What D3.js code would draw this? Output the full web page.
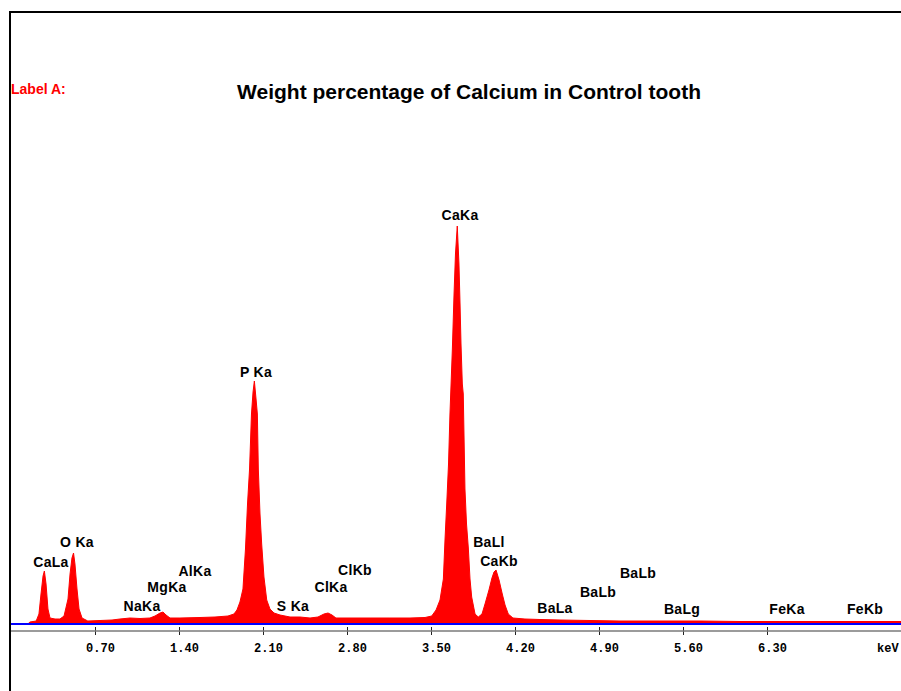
<!DOCTYPE html>
<html>
<head>
<meta charset="utf-8">
<script src="https://cdn.jsdelivr.net/npm/d3@7"></script>
<style>
  html, body { margin: 0; padding: 0; background: #fff; }
  svg { display: block; }
</style>
</head>
<body>
<svg id="chart" width="901" height="691"></svg>
<script>
// ---- Data ----
const energyKeV = [
  0.14, 0.158, 0.21, 0.233, 0.25, 0.267, 0.278, 0.292, 0.308, 0.325,
  0.367, 0.408, 0.442, 0.475, 0.492, 0.508, 0.521, 0.533, 0.55, 0.567,
  0.592, 0.64, 0.742, 0.842, 0.908, 0.992, 1.075, 1.158, 1.2, 1.242,
  1.267, 1.292, 1.325, 1.408, 1.575, 1.7, 1.808, 1.858, 1.883, 1.908,
  1.933, 1.954, 1.971, 1.988, 2.004, 2.017, 2.028, 2.042, 2.053, 2.061,
  2.075, 2.089, 2.108, 2.131, 2.158, 2.192, 2.242, 2.325, 2.408, 2.492,
  2.558, 2.608, 2.642, 2.675, 2.708, 2.825, 2.992, 3.158, 3.325, 3.45,
  3.506, 3.542, 3.575, 3.603, 3.617, 3.631, 3.646, 3.658, 3.678, 3.692,
  3.704, 3.719, 3.733, 3.742, 3.75, 3.761, 3.769, 3.783, 3.796, 3.811,
  3.825, 3.839, 3.867, 3.894, 3.925, 3.95, 3.983, 4.008, 4.025, 4.042,
  4.067, 4.094, 4.117, 4.144, 4.183, 4.283, 4.408, 4.575, 4.825, 5.075,
  5.408, 5.742, 6.075, 6.408, 6.742, 7.075, 7.417
];
const counts = [
  0, 2, 3, 10, 30, 48, 53, 40, 15, 6,
  5, 5, 8, 25, 50, 66, 71, 60, 35, 15,
  6, 3, 3.5, 4, 5, 6, 5.5, 6, 8, 11,
  12, 9, 6, 6, 6.5, 7, 8, 10, 14, 22,
  35, 75, 120, 155, 210, 232, 243, 225, 210, 155,
  110, 80, 47, 24, 15, 11, 9, 7, 7, 6,
  7, 10, 11, 9, 6, 6, 6, 6, 6, 6.5,
  8, 14, 24, 45, 85, 120, 160, 210, 275, 330,
  370, 398, 360, 320, 280, 240, 230, 135, 100, 76,
  45, 27, 10, 7, 10, 20, 34, 46, 52, 54,
  44, 30, 19, 10, 6, 5, 4.5, 4, 3.5, 3,
  3, 3, 2.5, 2.5, 2.5, 2.5, 2.5
];
const tickValues = [0.70, 1.40, 2.10, 2.80, 3.50, 4.20, 4.90, 5.60, 6.30];
const peakNames  = ["CaLa", "O Ka", "NaKa", "MgKa", "AlKa", "P Ka", "S Ka", "ClKa", "ClKb",
                    "CaKa", "BaLl", "CaKb", "BaLa", "BaLb", "BaLb", "BaLg", "FeKa", "FeKb"];
const peakLabelKeV = [0.333, 0.55, 1.092, 1.3, 1.533, 2.042, 2.35, 2.667, 2.867,
                      3.742, 3.983, 4.067, 4.533, 4.892, 5.225, 5.592, 6.467, 7.117];
const peakLabelLevel = [57, 77, 13, 32, 48, 247, 13, 32, 49,
                        404, 77, 58, 11, 27, 46, 10, 10, 10];
const titleText = "Weight percentage of Calcium in Control tooth";
const cornerLabel = "Label A:";
const unitLabel = "keV";

// ---- Layout ----
const svg = d3.select("#chart");
const W = 901, H = 691;
const x = d3.scaleLinear().domain([0, 7.425]).range([11, 902]);
const y = d3.scaleLinear().domain([0, 400]).range([624, 224]);

svg.append("rect").attr("width", W).attr("height", H).attr("fill", "#fff");

// Frame
svg.append("line").attr("x1", 10).attr("x2", W).attr("y1", 12).attr("y2", 12)
  .attr("stroke", "#000").attr("stroke-width", 2);
svg.append("line").attr("x1", 10).attr("x2", 10).attr("y1", 11).attr("y2", H)
  .attr("stroke", "#000").attr("stroke-width", 2);

// Corner label & title
svg.append("text").attr("x", 11).attr("y", 94)
  .attr("font-family", "Liberation Sans, Arial, sans-serif").attr("font-size", 14)
  .attr("font-weight", "bold").attr("fill", "#ff0000").text(cornerLabel);
svg.append("text").attr("x", 469).attr("y", 99).attr("text-anchor", "middle")
  .attr("font-family", "Liberation Sans, Arial, sans-serif").attr("font-size", 21)
  .attr("font-weight", "bold").attr("fill", "#000").text(titleText);

// Spectrum
const pts = energyKeV.map((e, i) => [e, counts[i]]);
const area = d3.area()
  .x(d => x(d[0]))
  .y0(y(0))
  .y1(d => y(d[1]))
  .curve(d3.curveLinear);
svg.append("path").datum(pts).attr("d", area)
  .attr("fill", "#ff0000").attr("stroke", "#ff0000").attr("stroke-width", 1);

// Blue baseline
svg.append("line").attr("x1", 11).attr("x2", W).attr("y1", y(0)).attr("y2", y(0))
  .attr("stroke", "#0000ff").attr("stroke-width", 2);

// X axis
const axisY = 631;
const axis = d3.axisBottom(x).tickValues(tickValues).tickFormat(d3.format(".2f"))
  .tickSize(0).tickPadding(0);
const gAxis = svg.append("g").attr("transform", `translate(0,${axisY})`).call(axis);
gAxis.select(".domain").remove();
gAxis.append("line").attr("x1", 11).attr("x2", W).attr("y1", 0).attr("y2", 0)
  .attr("stroke", "#7a7a7a").attr("stroke-width", 1.5);
gAxis.selectAll(".tick").append("line")
  .attr("y1", -4).attr("y2", 4).attr("stroke", "#222").attr("stroke-width", 1);
gAxis.selectAll(".tick text")
  .attr("dx", 5).attr("dy", 0).attr("y", 21)
  .attr("font-family", "Liberation Mono, DejaVu Sans Mono, monospace")
  .attr("font-size", 12).attr("font-weight", "bold").attr("fill", "#000");
svg.append("text").attr("x", 877).attr("y", 652)
  .attr("font-family", "Liberation Mono, DejaVu Sans Mono, monospace")
  .attr("font-size", 12).attr("font-weight", "bold").attr("fill", "#000").text(unitLabel);

// Peak labels
svg.append("g").selectAll("text").data(peakNames).join("text")
  .attr("x", (d, i) => x(peakLabelKeV[i]))
  .attr("y", (d, i) => y(peakLabelLevel[i]))
  .attr("text-anchor", "middle")
  .attr("font-family", "Liberation Sans, Arial, sans-serif")
  .attr("font-size", 14).attr("font-weight", "bold").attr("letter-spacing", 0.3)
  .attr("fill", "#000")
  .text(d => d);
</script>
</body>
</html>
